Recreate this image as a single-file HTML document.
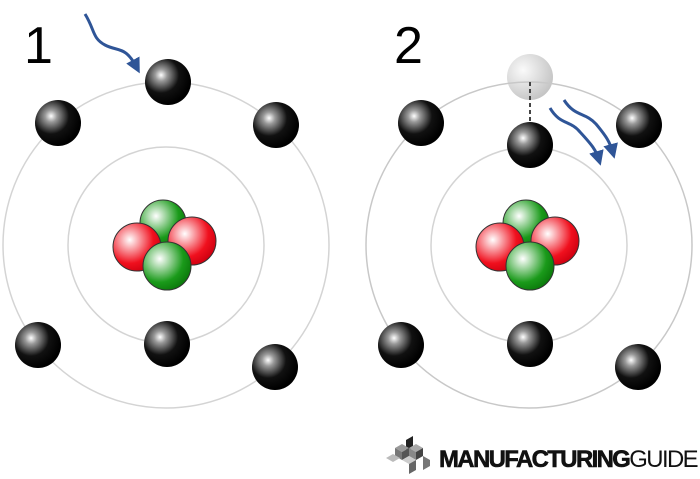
<!DOCTYPE html>
<html><head><meta charset="utf-8"><style>html,body{margin:0;padding:0;background:#fff;width:700px;height:479px;overflow:hidden}</style></head>
<body>
<svg width="700" height="479" viewBox="0 0 700 479" xmlns="http://www.w3.org/2000/svg">
<defs>
<radialGradient id="e" cx="0.35" cy="0.35" r="0.65"><stop offset="0" stop-color="#fff"/><stop offset="0.2" stop-color="#999"/><stop offset="0.6" stop-color="#111"/><stop offset="1" stop-color="#000"/></radialGradient>
<radialGradient id="g" cx="0.35" cy="0.35" r="0.7"><stop offset="0" stop-color="#fff"/><stop offset="0.7" stop-color="#1a9a1a"/><stop offset="1" stop-color="#0b7a0b"/></radialGradient>
<radialGradient id="r" cx="0.35" cy="0.35" r="0.7"><stop offset="0" stop-color="#fff"/><stop offset="0.7" stop-color="#f0101e"/><stop offset="1" stop-color="#d00010"/></radialGradient>
<radialGradient id="gh" cx="0.35" cy="0.35" r="0.7"><stop offset="0" stop-color="#fafafa"/><stop offset="1" stop-color="#c4c4c4"/></radialGradient>
<marker id="ah" viewBox="0 0 10 10" refX="6" refY="5" markerWidth="5" markerHeight="5" orient="auto"><path d="M0,0 L10,5 L0,10 z" fill="#2f5597"/></marker>
<g id="nuc">
<circle cx="163" cy="223" r="23" fill="url(#g)" stroke="#333" stroke-width="1"/>
<circle cx="137" cy="247" r="24" fill="url(#r)" stroke="#333" stroke-width="1"/>
<circle cx="192" cy="241" r="24" fill="url(#r)" stroke="#333" stroke-width="1"/>
<circle cx="167" cy="266" r="24" fill="url(#g)" stroke="#333" stroke-width="1"/>
</g>
</defs>
<g fill="none" stroke="#d4d4d4" stroke-width="1.5">
<circle cx="166" cy="245" r="163"/><circle cx="166" cy="245" r="98"/>
<circle cx="529" cy="245" r="98"/>
</g>
<use href="#nuc"/>
<use href="#nuc" x="363"/>
<circle cx="530" cy="77" r="23" fill="url(#gh)"/>
<circle cx="529" cy="245" r="163" fill="none" stroke="#c8c8c8" stroke-width="1.5"/>
<g fill="url(#e)">
<circle cx="168" cy="82" r="23"/><circle cx="58" cy="123" r="23"/><circle cx="276" cy="125" r="23"/>
<circle cx="38" cy="345" r="23"/><circle cx="167" cy="344" r="23"/><circle cx="275" cy="367" r="23"/>
<circle cx="421" cy="123" r="23"/><circle cx="639" cy="125" r="23"/><circle cx="530" cy="145" r="23"/>
<circle cx="401" cy="345" r="23"/><circle cx="530" cy="344" r="23"/><circle cx="638" cy="367" r="23"/>
</g>
<line x1="530" y1="82" x2="530" y2="122" stroke="#444" stroke-width="2" stroke-dasharray="4,3"/>
<g fill="none" stroke="#2f5597" stroke-width="3" marker-end="url(#ah)">
<path d="M85,14 C95,30 92,38 105,45 C118,52 125,45 137,68"/>
<path d="M550,108 C560,125 570,120 580,132 C592,145 596,150 599,160"/>
<path d="M564,100 C575,117 585,112 596,124 C606,136 610,142 613,153"/>
</g>
<text x="24" y="63" font-family="Liberation Sans, sans-serif" font-size="52" fill="#000">1</text>
<text x="394" y="63" font-family="Liberation Sans, sans-serif" font-size="52" fill="#000">2</text>
<g>
<polygon points="406,440 413,436 413,448 406,452" fill="#222"/>
<polygon points="395,448 402,444 409,448 402,452" fill="#999"/>
<polygon points="395,448 402,452 402,460 395,456" fill="#777"/>
<polygon points="402,452 409,448 409,456 402,460" fill="#555"/>
<polygon points="409,448 416,444 423,448 416,452" fill="#aaa"/>
<polygon points="409,448 416,452 416,460 409,456" fill="#888"/>
<polygon points="416,452 423,448 423,456 416,460" fill="#444"/>
<polygon points="386,458 393,454 400,458 393,462" fill="#bbb"/>
<polygon points="402,460 409,456 416,460 409,464" fill="#ccc"/>
<polygon points="409,464 416,460 416,470 409,474" fill="#666"/>
<polygon points="423,456 430,460 430,466 423,470" fill="#777"/>
</g>
<text x="439" y="467" font-family="Liberation Sans, sans-serif" font-size="24" fill="#111" letter-spacing="-1.6" textLength="258" lengthAdjust="spacingAndGlyphs"><tspan font-weight="bold" stroke="#111" stroke-width="0.6">MANUFACTURING</tspan><tspan>GUIDE</tspan></text>
</svg>
</body></html>
